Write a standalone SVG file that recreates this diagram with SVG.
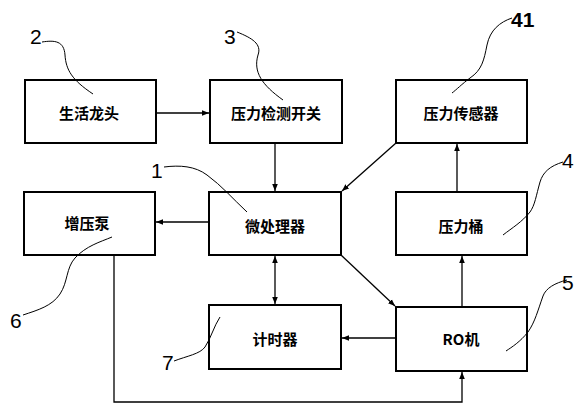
<svg xmlns="http://www.w3.org/2000/svg" width="584" height="411" viewBox="0 0 584 411">
<style>
.box{fill:#fff;stroke:#000;stroke-width:2}
.t{font-family:"Noto Sans CJK SC","Liberation Sans",sans-serif;font-size:15px;font-weight:bold;text-anchor:middle;dominant-baseline:central;fill:#000}
.c{fill:none;stroke:#000;stroke-width:1.3}
.ld{fill:none;stroke:#000;stroke-width:1}
.n{font-family:"Liberation Sans",sans-serif;font-size:21px;fill:#000}
</style>
<defs>
<marker id="a" viewBox="0 0 10 10" refX="10" refY="5" markerWidth="7" markerHeight="7" markerUnits="userSpaceOnUse" orient="auto"><path d="M0,1 L10,5 L0,9 Z" fill="#000"/></marker>
<marker id="s" viewBox="0 0 10 10" refX="0" refY="5" markerWidth="7" markerHeight="7" markerUnits="userSpaceOnUse" orient="auto"><path d="M10,1 L0,5 L10,9 Z" fill="#000"/></marker>
</defs>
<g id="connectors">
<line class="c" x1="156" y1="113" x2="209" y2="113" marker-end="url(#a)"/>
<line class="c" x1="275" y1="143" x2="275" y2="191" marker-end="url(#a)"/>
<line class="c" x1="396" y1="143" x2="342" y2="191" marker-end="url(#a)"/>
<line class="c" x1="457" y1="192" x2="457" y2="144" marker-end="url(#a)"/>
<line class="c" x1="209" y1="222" x2="156" y2="222" marker-end="url(#a)"/>
<line class="c" x1="275" y1="256" x2="275" y2="304" marker-start="url(#s)" marker-end="url(#a)"/>
<line class="c" x1="341" y1="255" x2="395" y2="306" marker-end="url(#a)"/>
<line class="c" x1="462" y1="307" x2="462" y2="256" marker-end="url(#a)"/>
<line class="c" x1="396" y1="338" x2="342" y2="338" marker-end="url(#a)"/>
<polyline class="c" points="114,255 114,402 462,402 462,372" marker-end="url(#a)"/>
</g>
<g id="n2"><rect class="box" x="25" y="80" width="131" height="63"/><text class="t" x="89" y="112">生活龙头</text></g>
<g id="n3"><rect class="box" x="210" y="80" width="132" height="63"/><text class="t" x="276" y="112">压力检测开关</text></g>
<g id="n41"><rect class="box" x="396" y="80" width="131" height="63"/><text class="t" x="461" y="112">压力传感器</text></g>
<g id="n6"><rect class="box" x="24" y="192" width="131" height="63"/><text class="t" x="87" y="222">增压泵</text></g>
<g id="n1"><rect class="box" x="209" y="192" width="132" height="63"/><text class="t" x="275" y="225">微处理器</text></g>
<g id="n4"><rect class="box" x="396" y="192" width="131" height="63"/><text class="t" x="461" y="225">压力桶</text></g>
<g id="n7"><rect class="box" x="209" y="305" width="132" height="64"/><text class="t" x="275" y="338">计时器</text></g>
<g id="n5"><rect class="box" x="396" y="307" width="131" height="64"/><text class="t" x="461" y="338">RO机</text></g>
<g id="labels">
<text class="n" x="30" y="44">2</text>
<path class="ld" d="M42,42 C55,40 64,41 65,55 C66,70 72,80 93,94"/>
<text class="n" x="224" y="44">3</text>
<path class="ld" d="M237,32 C252,38 262,44 258,55 C253,72 262,85 283,100"/>
<text class="n" x="511" y="27" font-weight="bold">41</text>
<path class="ld" d="M512,18 C500,22 490,30 487,45 C484,60 482,70 470,78 C462,84 456,90 452,93"/>
<text class="n" x="151" y="178">1</text>
<path class="ld" d="M164,167 C180,165 195,166 207,175 C222,186 232,198 247,212"/>
<text class="n" x="562" y="168">4</text>
<path class="ld" d="M563,162 C550,166 543,172 540,182 C536,196 535,205 530,212 C522,222 512,228 503,235"/>
<text class="n" x="562" y="290">5</text>
<path class="ld" d="M567,280 C555,283 546,288 543,296 C538,310 535,322 528,332 C520,342 512,347 506,351"/>
<text class="n" x="10" y="328">6</text>
<path class="ld" d="M23,315 C38,310 52,306 60,294 C68,282 66,268 75,258 C86,246 100,242 112,237"/>
<text class="n" x="162" y="370">7</text>
<path class="ld" d="M174,361 C187,356 200,354 205,347 C211,338 214,326 220,317"/>
</g>
</svg>
